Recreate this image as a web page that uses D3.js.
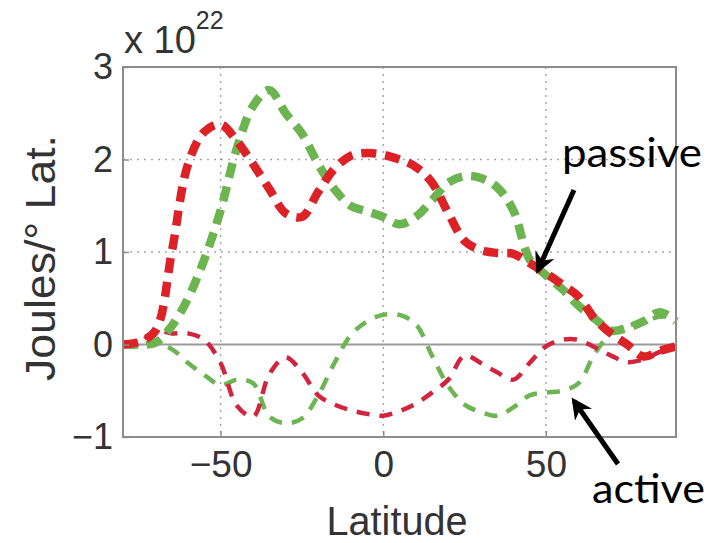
<!DOCTYPE html>
<html>
<head>
<meta charset="utf-8">
<script src="https://cdn.jsdelivr.net/npm/d3@7"></script>
<style>
  html, body { margin: 0; padding: 0; background: #fff; }
  svg { display: block; }
</style>
</head>
<body>
<svg id="chart" width="712" height="543"></svg>
<script>
// ---- data ----
const latitudes = [-80,-75,-70,-65,-60,-55,-50,-45,-40,-35,-30,-25,-20,-15,-10,-5,0,5,10,15,20,25,30,35,40,45,50,55,60,65,70,75,80,85,90];
const passiveRed   = [0.0,0.03,0.15,1.0,1.95,2.3,2.38,2.2,1.95,1.68,1.42,1.38,1.65,1.9,2.04,2.07,2.05,2.0,1.92,1.75,1.42,1.12,1.02,0.99,0.98,0.88,0.77,0.65,0.52,0.28,0.12,0.0,-0.13,-0.07,-0.02];
const passiveGreen = [0,0,0.02,0.2,0.5,0.92,1.45,2.12,2.58,2.75,2.5,2.28,1.95,1.68,1.5,1.44,1.38,1.3,1.38,1.56,1.75,1.82,1.8,1.7,1.45,0.92,0.75,0.6,0.42,0.28,0.15,0.18,0.25,0.35,0.25];
const activeRed    = [0,0.02,0.15,0.12,0.12,0.05,-0.2,-0.66,-0.78,-0.32,-0.14,-0.3,-0.55,-0.65,-0.71,-0.75,-0.77,-0.72,-0.64,-0.52,-0.38,-0.12,-0.2,-0.3,-0.38,-0.2,-0.02,0.05,0.05,-0.03,-0.12,-0.19,-0.16,-0.08,-0.02];
const activeGreen  = [0,0,0.02,-0.05,-0.2,-0.33,-0.44,-0.38,-0.42,-0.78,-0.85,-0.8,-0.55,-0.2,0.1,0.25,0.32,0.32,0.22,-0.12,-0.45,-0.65,-0.73,-0.77,-0.68,-0.55,-0.52,-0.5,-0.42,-0.1,0.12,0.2,0.25,0.3,0.3];
const xTicks = [-50, 0, 50];
const yTicks = [-1, 0, 1, 2, 3];
const xDomain = [-80, 90];
const yDomain = [-1, 3];
const xLabel = "Latitude";
const yLabel = "Joules/\u00B0 Lat.";
const exponentBase = "x 10";
const exponentPower = "22";
const annotations = [
  { text: "passive", x: 562, y: 167, len: 140, from: [574, 190], to: [538, 270] },
  { text: "active",  x: 592, y: 503, len: 113, from: [618, 464], to: [574, 401] }
];

// ---- layout ----
const svg = d3.select("#chart");
const plot = { left: 123, right: 676, top: 67, bottom: 437 };
const x = d3.scaleLinear().domain(xDomain).range([plot.left, plot.right]);
const y = d3.scaleLinear().domain(yDomain).range([plot.bottom, plot.top]);

const frameColor = "#8c8c8c";
const gridColor = "#a8a8a8";

// grid lines
const grid = svg.append("g");
grid.selectAll("line.vx").data(xTicks).join("line")
  .attr("x1", d => x(d)).attr("x2", d => x(d))
  .attr("y1", plot.top).attr("y2", plot.bottom)
  .attr("stroke", gridColor).attr("stroke-width", 1.5)
  .attr("stroke-dasharray", "2,5");
grid.selectAll("line.hy").data(yTicks.filter(d => d !== 0 && d !== yDomain[0] && d !== yDomain[1])).join("line")
  .attr("x1", plot.left).attr("x2", plot.right)
  .attr("y1", d => y(d)).attr("y2", d => y(d))
  .attr("stroke", gridColor).attr("stroke-width", 1.5)
  .attr("stroke-dasharray", "2,5");

// zero line
svg.append("line")
  .attr("x1", plot.left).attr("x2", plot.right)
  .attr("y1", y(0)).attr("y2", y(0))
  .attr("stroke", "#9a9a9a").attr("stroke-width", 2);

// series
const line = d3.line()
  .x((d, i) => x(latitudes[i]))
  .y(d => y(d))
  .curve(d3.curveCatmullRom.alpha(0.5));

const series = [
  { values: activeGreen,  color: "#6db552", width: 4.5, dash: "13,10" },
  { values: activeRed,    color: "#d2233f", width: 4.5, dash: "13,10" },
  { values: passiveGreen, color: "#6cb44f", width: 8.5, dash: "15,9" },
  { values: passiveRed,   color: "#dc2127", width: 8.5, dash: "15,9" }
];
svg.append("g").selectAll("path").data(series).join("path")
  .attr("d", d => line(d.values))
  .attr("fill", "none")
  .attr("stroke", d => d.color)
  .attr("stroke-width", d => d.width)
  .attr("stroke-dasharray", d => d.dash);

// frame
svg.append("rect")
  .attr("x", plot.left).attr("y", plot.top)
  .attr("width", plot.right - plot.left).attr("height", plot.bottom - plot.top)
  .attr("fill", "none").attr("stroke", frameColor).attr("stroke-width", 2);

// axes
const fontAxis = "'Liberation Sans', Arial, Helvetica, sans-serif";
const xAxis = svg.append("g")
  .attr("transform", `translate(0,${plot.bottom})`)
  .call(d3.axisBottom(x).tickValues(xTicks).tickFormat(d3.format("d")).tickSize(-6).tickPadding(14));
xAxis.select(".domain").remove();
xAxis.selectAll("line").attr("stroke", frameColor).attr("stroke-width", 1.5);
xAxis.selectAll("text").attr("font-size", 37).attr("font-family", fontAxis).attr("fill", "#333");

const yAxis = svg.append("g")
  .attr("transform", `translate(${plot.left},0)`)
  .call(d3.axisLeft(y).tickValues(yTicks).tickFormat(d3.format("d")).tickSize(-6).tickPadding(10));
yAxis.select(".domain").remove();
yAxis.selectAll("line").attr("stroke", frameColor).attr("stroke-width", 1.5);
yAxis.selectAll("text").attr("font-size", 36).attr("font-family", fontAxis).attr("fill", "#333");

// exponent
const expo = svg.append("text")
  .attr("x", 124).attr("y", 53)
  .attr("font-family", fontAxis).attr("font-size", 38).attr("fill", "#333");
expo.append("tspan").text(exponentBase);
expo.append("tspan").attr("dy", -24).attr("font-size", 25).text(exponentPower);

// axis labels
svg.append("text")
  .attr("x", 397).attr("y", 535)
  .attr("text-anchor", "middle")
  .attr("font-family", fontAxis).attr("font-size", 40).attr("fill", "#333")
  .attr("textLength", 141).attr("lengthAdjust", "spacingAndGlyphs")
  .text(xLabel);

svg.append("text")
  .attr("transform", "translate(55,258) rotate(-90)")
  .attr("text-anchor", "middle")
  .attr("font-family", fontAxis).attr("font-size", 42).attr("fill", "#333")
  .attr("textLength", 246).attr("lengthAdjust", "spacingAndGlyphs")
  .text(yLabel);

// annotations
const defs = svg.append("defs");
defs.append("marker")
  .attr("id", "arrow").attr("viewBox", "0 0 10 10")
  .attr("refX", 8).attr("refY", 5)
  .attr("markerWidth", 4.2).attr("markerHeight", 4.2)
  .attr("markerUnits", "strokeWidth")
  .attr("orient", "auto")
  .append("path").attr("d", "M0,0 L10,5 L0,10 L3,5 Z").attr("fill", "#000");

const ann = svg.append("g");
annotations.forEach(a => {
  ann.append("text")
    .attr("x", a.x).attr("y", a.y)
    .attr("font-family", "Lato, 'Open Sans', sans-serif")
    .attr("font-size", 40).attr("fill", "#000")
    .attr("textLength", a.len).attr("lengthAdjust", "spacingAndGlyphs")
    .text(a.text);
  ann.append("line")
    .attr("x1", a.from[0]).attr("y1", a.from[1])
    .attr("x2", a.to[0]).attr("y2", a.to[1])
    .attr("stroke", "#000").attr("stroke-width", 5)
    .attr("marker-end", "url(#arrow)");
});
</script>
</body>
</html>
